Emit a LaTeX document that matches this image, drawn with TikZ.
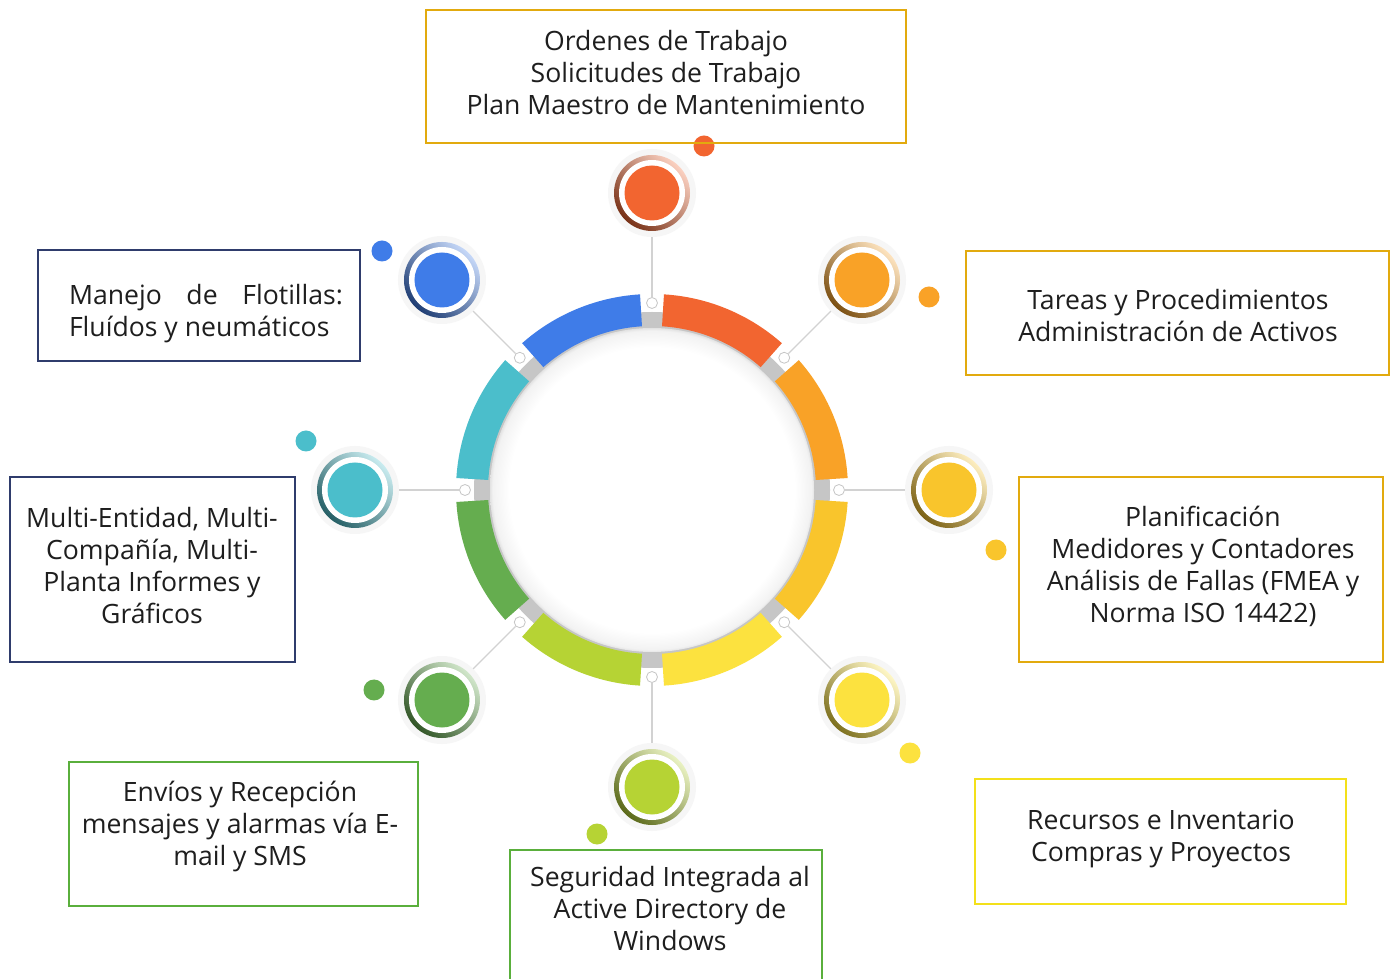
\documentclass[tikz,border=0pt]{standalone}
\usepackage{fontspec}
\setmainfont{Open Sans}
\usetikzlibrary{calc}
\definecolor{goldB}{HTML}{E2AA0E}
\definecolor{navyB}{HTML}{2F3C6C}
\definecolor{greenB}{HTML}{5AAF3C}
\definecolor{yellowB}{HTML}{F3E01A}
\definecolor{redC}{HTML}{F26530}
\definecolor{orangeC}{HTML}{F9A227}
\definecolor{yorangeC}{HTML}{F9C52C}
\definecolor{yellowC}{HTML}{FCE23F}
\definecolor{limeC}{HTML}{B6D334}
\definecolor{greenC}{HTML}{65AD4F}
\definecolor{tealC}{HTML}{4BBECB}
\definecolor{blueC}{HTML}{3F7CE8}
\definecolor{txtC}{HTML}{1E1E1E}
\pgfdeclareradialshading{diskshade}{\pgfpoint{0bp}{0bp}}{color(0bp)=(white); color(22bp)=(white); color(24.6bp)=(gray!10); color(25bp)=(gray!22); color(50bp)=(gray!22)}
\begin{document}
\begin{tikzpicture}[x=1pt,y=1pt,
 box/.style={draw=#1, line width=2.8pt, inner sep=0pt, rectangle},
 txt/.style={align=center, font=\fontsize{26.6}{32}\selectfont, text=txtC, inner sep=0pt},
 marker/.style={circle, draw=gray!45, fill=white, line width=0.8pt, minimum size=11pt, inner sep=0pt},
 sat/.style={circle, inner sep=0pt, minimum size=78pt},
 dot/.style={circle, fill=#1, inner sep=0pt, minimum size=21pt},
 stem/.style={draw=gray!35, line width=1.2pt}]
\useasboundingbox (0,0) rectangle (1392,978);
\fill[white] (0,0) rectangle (1392,978);

% central ring
\coordinate (C) at (652,488);
\fill[gray!45] (C) circle (178);
\shade[shading=diskshade] (C) circle (162);
\foreach \a/\c in {0/orangeC,45/redC,90/blueC,135/tealC,180/greenC,225/limeC,270/yellowC,315/yorangeC}{
  \fill[\c] ($(C)+(\a+3.5:196)$) arc[start angle=\a+3.5, end angle=\a+41.5, radius=196]
    -- ($(C)+(\a+41.5:164)$) arc[start angle=\a+41.5, end angle=\a+3.5, radius=164] -- cycle;
}

% satellites and markers
\foreach \n/\a in {1/90,2/45,3/0,4/-45,5/-90,6/-135,7/180,8/135}{
  \node[sat] (s\n) at ($(C)+(\a:297)$) {};
  \node[marker] (m\n) at ($(C)+(\a:187)$) {};
}
\foreach \n/\c in {1/redC,2/orangeC,3/yorangeC,4/yellowC,5/limeC,6/greenC,7/tealC,8/blueC}{
  \draw[stem] (s\n) -- (m\n);
  \fill[gray!7] (s\n.center) circle (44);
  \shade[top color=\c!30, bottom color=\c!50!black, shading angle=-45] (s\n.center) circle (38);
  \fill[white] (s\n.center) circle (33);
  \fill[\c] (s\n.center) circle (27.5);
}

% small dots
\node[dot=redC] (d1) at (704,832) {};
\node[dot=orangeC] (d2) at (929,681) {};
\node[dot=yorangeC] (d3) at (996,428) {};
\node[dot=yellowC] (d4) at (910,225) {};
\node[dot=limeC] (d5) at (597,144) {};
\node[dot=greenC] (d6) at (374,288) {};
\node[dot=tealC] (d7) at (306,537) {};
\node[dot=blueC] (d8) at (382,727) {};

% boxes
\node[box=goldB, minimum width=480pt, minimum height=133pt] (b1) at (666,901.5) {};
\node[txt] (t1) at (666,905.5) {Ordenes de Trabajo\\Solicitudes de Trabajo\\Plan Maestro de Mantenimiento};

\node[box=navyB, minimum width=322pt, minimum height=111pt] (b2) at (199,672.5) {};
\node[txt, align=left] (t2) at (206,664) {\hbox to 274pt{Manejo\hfill de\hfill Flotillas:}\\Fluídos y neumáticos};

\node[box=navyB, minimum width=285pt, minimum height=185pt] (b3) at (152.5,408.5) {};
\node[txt] (t3) at (152,412) {Multi-Entidad, Multi-\\Compañía, Multi-\\Planta Informes y\\Gráficos};

\node[box=greenB, minimum width=349pt, minimum height=144pt] (b4) at (243.5,144) {};
\node[txt] (t4) at (240,151) {Envíos y Recepción\\mensajes y alarmas vía E-\\mail y SMS};

\node[box=greenB, minimum width=312pt, minimum height=150pt] (b5) at (666,53) {};
\node[txt] (t5) at (670,69) {Seguridad Integrada al\\Active Directory de\\Windows};

\node[box=yellowB, minimum width=371pt, minimum height=125pt] (b6) at (1160.5,136.5) {};
\node[txt] (t6) at (1161,139) {Recursos e Inventario\\Compras y Proyectos};

\node[box=goldB, minimum width=364pt, minimum height=185pt] (b7) at (1201,408.5) {};
\node[txt] (t7) at (1203,412) {Planificación\\Medidores y Contadores\\Análisis de Fallas (FMEA y\\Norma ISO 14422)};

\node[box=goldB, minimum width=423pt, minimum height=124pt] (b8) at (1177.5,665) {};
\node[txt] (t8) at (1178,662) {Tareas y Procedimientos\\Administración de Activos};
\end{tikzpicture}
\end{document}
